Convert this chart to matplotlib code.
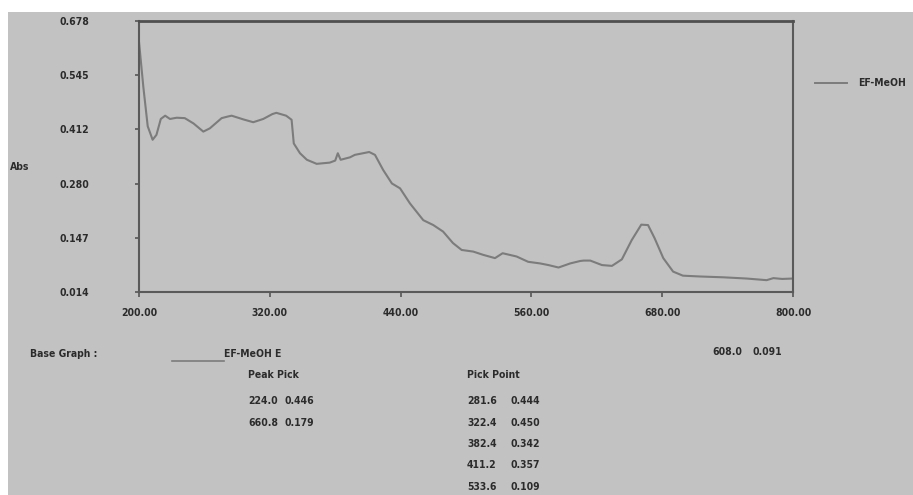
import matplotlib
import matplotlib.pyplot as plt
from matplotlib.patches import Rectangle

matplotlib.use("Agg")

# Spectrum (wavelength nm, absorbance)
wavelength = [200, 204, 208, 212.5, 216, 220, 224, 228.4, 234.6, 242, 250, 259, 265,
              275.8, 281.6, 285, 295.6, 304.8, 314, 322.4, 326, 335, 340, 342, 347.7,
              354, 363, 375, 380, 382.4, 385, 393.6, 398, 411.2, 416.5, 424, 432,
              439.5, 448.6, 460.8, 470, 479, 488, 496, 506.7, 515.8, 526.6, 533.6,
              546.4, 557, 568, 575.6, 584.9, 595.6, 604.8, 608.0, 614, 624.7, 633.9,
              643, 652, 660.8, 667, 673, 681, 690, 699, 714.7, 736, 757.4, 775.8,
              782, 790, 800]
absorbance = [0.627, 0.516, 0.420, 0.387, 0.399, 0.438, 0.446, 0.438, 0.441, 0.440,
              0.427, 0.407, 0.415, 0.440, 0.444, 0.446, 0.437, 0.430, 0.438, 0.450,
              0.453, 0.446, 0.436, 0.378, 0.354, 0.338, 0.328, 0.331, 0.336, 0.354,
              0.338, 0.344, 0.350, 0.357, 0.350, 0.313, 0.280, 0.268, 0.231, 0.190,
              0.178, 0.162, 0.134, 0.117, 0.113, 0.105, 0.097, 0.109, 0.101, 0.088,
              0.084, 0.080, 0.074, 0.084, 0.090, 0.091, 0.091, 0.080, 0.078, 0.094,
              0.141, 0.179, 0.178, 0.146, 0.097, 0.064, 0.054, 0.052, 0.050, 0.047,
              0.043, 0.048, 0.046, 0.047]

x_ticks = [200, 320, 440, 560, 680, 800]
x_tick_labels = ["200.00", "320.00", "440.00", "560.00", "680.00", "800.00"]
y_ticks = [0.014, 0.1468, 0.2796, 0.4124, 0.5452, 0.678]
y_tick_labels = ["0.014", "0.147", "0.280", "0.412", "0.545", "0.678"]

peak_pick = [("224.0", "0.446"), ("660.8", "0.179")]
pick_point = [("281.6", "0.444"), ("322.4", "0.450"), ("382.4", "0.342"),
              ("411.2", "0.357"), ("533.6", "0.109")]

BG = "#c2c2c2"
FG = "#2b2b2b"
W, H = 913, 495
txt = dict(family="DejaVu Sans", stretch="condensed", fontweight="bold", fontsize=7.5,
           color=FG, va="center", ha="left")


def fx(px):
    return px / W


def fy(py):
    return 1 - py / H


fig = plt.figure(figsize=(9.13, 4.95), dpi=100, facecolor="white")
fig.patches.append(Rectangle((fx(8), 0), 1 - fx(8), fy(12), transform=fig.transFigure,
                             facecolor=BG, edgecolor="none", zorder=-10))

ax = fig.add_axes([fx(139), fy(292), fx(654), 271 / H])
ax.set_facecolor(BG)
ax.plot(wavelength, absorbance, color="#7c7c7c", linewidth=1.5)

ax.set_xlim(200, 800)
ax.set_ylim(0.014, 0.678)
ax.set_xticks(x_ticks)
ax.set_xticklabels(x_tick_labels)
ax.set_yticks(y_ticks)
ax.set_yticklabels(y_tick_labels)
for lab in ax.get_xticklabels() + ax.get_yticklabels():
    lab.set_family("DejaVu Sans")
    lab.set_stretch("condensed")
    lab.set_fontweight("bold")
    lab.set_fontsize(7.5)
    lab.set_color(FG)
ax.tick_params(axis="y", length=3, width=1.2, color="#555555", pad=33)
ax.tick_params(axis="x", length=3.5, width=1.2, color="#555555", pad=8)
for side in ["left", "bottom", "right"]:
    ax.spines[side].set_color("#5a5a5a")
    ax.spines[side].set_linewidth(1.5)
ax.spines["top"].set_color("#505050")
ax.spines["top"].set_linewidth(2.0)

fig.text(fx(10), fy(167), "Abs", **txt)

# legend at right
fig.add_artist(plt.Line2D([fx(815), fx(847)], [fy(83), fy(83)], color="#7c7c7c",
                          linewidth=1.4, transform=fig.transFigure))
fig.text(fx(858), fy(83), "EF-MeOH", **txt)

# report block under the graph
fig.text(fx(30), fy(354), "Base Graph :", **txt)
fig.add_artist(plt.Line2D([fx(172), fx(224)], [fy(361), fy(361)], color="#7c7c7c",
                          linewidth=1.2, transform=fig.transFigure))
fig.text(fx(224), fy(354), "EF-MeOH E", **txt)
fig.text(fx(712), fy(352), "608.0", **txt)
fig.text(fx(752), fy(352), "0.091", **txt)

fig.text(fx(248), fy(375), "Peak Pick", **txt)
for i, (wl, ab) in enumerate(peak_pick):
    fig.text(fx(248), fy(401 + 22 * i), wl, **txt)
    fig.text(fx(284), fy(401 + 22 * i), ab, **txt)

fig.text(fx(467), fy(375), "Pick Point", **txt)
for i, (wl, ab) in enumerate(pick_point):
    fig.text(fx(467), fy(401 + 21.5 * i), wl, **txt)
    fig.text(fx(510), fy(401 + 21.5 * i), ab, **txt)

fig.savefig("out.png", dpi=100, facecolor=fig.get_facecolor())
plt.close(fig)
